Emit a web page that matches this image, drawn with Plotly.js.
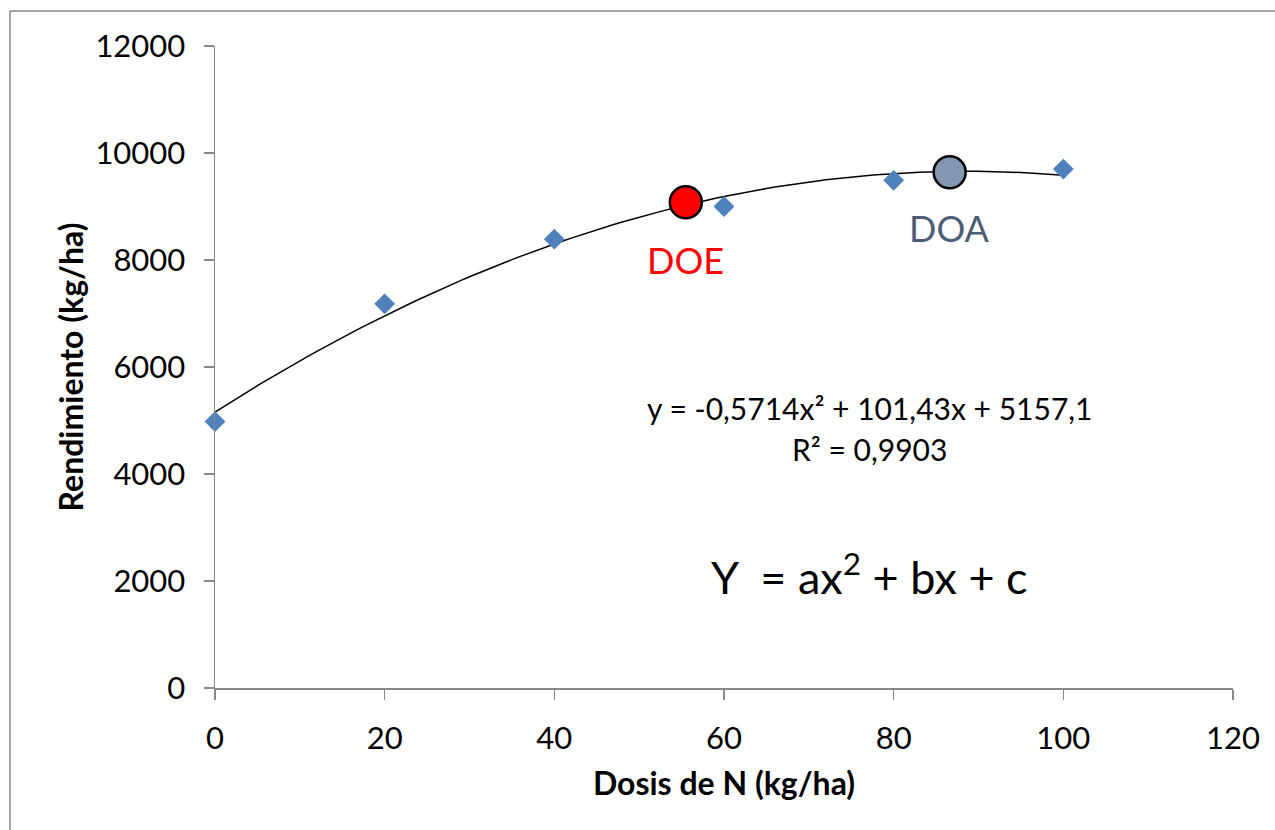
<!DOCTYPE html>
<html><head><meta charset="utf-8">
<script src="https://cdn.plot.ly/plotly-3.0.1.min.js"></script>
<style>body{margin:0;background:#fff;}#chart{width:1275px;height:830px;}</style>
</head><body><div id="chart"></div>
<script>
// Observed data
const dosis = [0, 20, 40, 60, 80, 100];
const rendimiento = [4980, 7180, 8390, 9000, 9490, 9700];
// Trendline coefficients as displayed (a, b, c)
const coef = [-0.5714, 101.43, 5157.1];
const trendX = [];
for (let x = 0; x <= 100; x += 1) trendX.push(x);
const trendY = trendX.map(x => coef[0]*x*x + coef[1]*x + coef[2]);
// Highlighted doses
const doeX = [55.5], doeY = [9080];
const doaX = [86.6], doaY = [9640];
const xTicks = [0, 20, 40, 60, 80, 100, 120];
const yTicks = [0, 2000, 4000, 6000, 8000, 10000, 12000];

const F = 'Lato, "Open Sans", sans-serif';
const traces = [
  {x: trendX, y: trendY, mode: 'lines', line: {color: '#000', width: 1.5}, hoverinfo: 'skip', cliponaxis: false},
  {x: dosis, y: rendimiento, mode: 'markers', cliponaxis: false, marker: {symbol: 'diamond', size: 16, color: '#4f81bd'}},
  {x: doeX, y: doeY, mode: 'markers', cliponaxis: false, marker: {symbol: 'circle', size: 32, color: '#ff0000', line: {color: '#000', width: 2.5}}},
  {x: doaX, y: doaY, mode: 'markers', cliponaxis: false, marker: {symbol: 'circle', size: 32, color: '#8497b0', line: {color: '#000', width: 2.5}}}
];
const layout = {
  width: 1275, height: 830,
  margin: {l: 215, r: 42, t: 46, b: 142},
  showlegend: false,
  paper_bgcolor: '#fff', plot_bgcolor: '#fff',
  font: {family: F, color: '#000'},
  xaxis: {
    range: [0, 120], tickvals: xTicks, ticktext: xTicks.map(String),
    showgrid: false, zeroline: false, showline: true, linecolor: '#898989', linewidth: 1.5,
    ticks: 'outside', ticklen: 10, tickcolor: '#898989', tickwidth: 1.5,
    tickfont: {size: 31, family: F}, ticklabelstandoff: 12,
    title: {text: '<b>Dosis de N (kg/ha)</b>', font: {size: 32, family: F}, standoff: 18}
  },
  yaxis: {
    range: [0, 12000], tickvals: yTicks, ticktext: yTicks.map(String),
    showgrid: false, zeroline: false, showline: true, linecolor: '#898989', linewidth: 1.5,
    ticks: 'outside', ticklen: 10, tickcolor: '#898989', tickwidth: 1.5,
    tickfont: {size: 31, family: F}, ticklabelstandoff: 12,
    title: {text: '<b>Rendimiento (kg/ha)</b>', font: {size: 32, family: F}, standoff: 2}
  },
  annotations: [
    {x: 55.5, y: 8000, xref: 'x', yref: 'y', text: 'DOE', showarrow: false, font: {size: 36, color: '#ff0000', family: F}},
    {x: 86.6, y: 8600, xref: 'x', yref: 'y', text: 'DOA', showarrow: false, font: {size: 36, color: '#4d5d75', family: F}},
    {x: 77.2, y: 5240, xref: 'x', yref: 'y', text: 'y = -0,5714x² + 101,43x + 5157,1', showarrow: false, font: {size: 30, family: F}},
    {x: 77.2, y: 4470, xref: 'x', yref: 'y', text: 'R² = 0,9903', showarrow: false, font: {size: 30, family: F}},
    {x: 77.2, y: 2130, xref: 'x', yref: 'y', text: 'Y  = ax<sup>2</sup> + bx + c', showarrow: false, font: {size: 45, family: F}}
  ],
  shapes: [
    {type: 'line', xref: 'paper', yref: 'paper', x0: (10-215)/1018, x1: (1300-215)/1018, y0: (688-11)/642, y1: (688-11)/642, line: {color: '#898989', width: 1.5}},
    {type: 'line', xref: 'paper', yref: 'paper', x0: (10-215)/1018, x1: (10-215)/1018, y0: (688-11)/642, y1: (688-900)/642, line: {color: '#898989', width: 1.5}}
  ]
};
Plotly.newPlot('chart', traces, layout, {displayModeBar: false, staticPlot: true});
</script></body></html>
